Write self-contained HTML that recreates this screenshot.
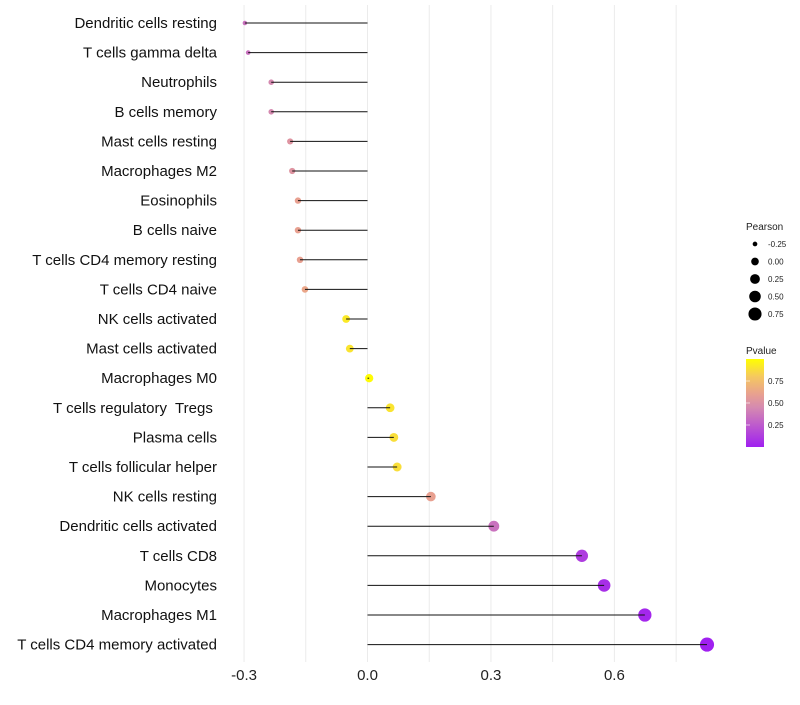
<!DOCTYPE html>
<html><head><meta charset="utf-8"><style>
body{margin:0;background:#fff;font-family:"Liberation Sans",sans-serif}
svg text{font-family:"Liberation Sans",sans-serif;white-space:pre}
</style></head><body>
<svg id="chart" width="800" height="700" xmlns="http://www.w3.org/2000/svg">
<g id="grid"></g>
<g id="dots"></g>
<g id="marks"></g>
<g id="ylab"></g>
<g id="xlab"></g>
<g id="legend">
<text x="746" y="230" font-size="10" fill="#222">Pearson</text>
<text x="746" y="354" font-size="10" fill="#222">Pvalue</text>
<defs><linearGradient id="pg" x1="0" y1="1" x2="0" y2="0">
<stop offset="0" stop-color="#A020F0"/><stop offset="0.45" stop-color="#D58AB0"/><stop offset="0.6" stop-color="#E8A090"/><stop offset="0.8" stop-color="#F5C860"/><stop offset="1" stop-color="#FFFF00"/></linearGradient></defs>
<rect x="746" y="359" width="18" height="88" fill="url(#pg)"/>
</g>
</svg>
<script>
const categories=["Dendritic cells resting","T cells gamma delta","Neutrophils","B cells memory","Mast cells resting","Macrophages M2","Eosinophils","B cells naive","T cells CD4 memory resting","T cells CD4 naive","NK cells activated","Mast cells activated","Macrophages M0","T cells regulatory  Tregs ","Plasma cells","T cells follicular helper","NK cells resting","Dendritic cells activated","T cells CD8","Monocytes","Macrophages M1","T cells CD4 memory activated"];
const pearson=[-0.298,-0.29,-0.234,-0.234,-0.188,-0.183,-0.169,-0.169,-0.164,-0.152,-0.052,-0.043,0.004,0.055,0.064,0.072,0.154,0.307,0.521,0.575,0.674,0.825];
const pvalue=[0.35,0.35,0.45,0.45,0.52,0.52,0.6,0.6,0.6,0.63,0.92,0.9,0.99,0.9,0.88,0.88,0.6,0.35,0.12,0.06,0.03,0.0];
const xTicks=[-0.3,0,0.3,0.6];
const xTickLabels=["-0.3","0.0","0.3","0.6"];
const sizeLegend=[-0.25,0,0.25,0.5,0.75];
const sizeLegendLabels=["-0.25","0.00","0.25","0.50","0.75"];
const colorTicks=[0.25,0.5,0.75];
const colorTickLabels=["0.25","0.50","0.75"];
const NS="http://www.w3.org/2000/svg";
const x=v=>367.5+v*411.5;
const y=i=>23+i*29.6;
const r=v=>Math.sqrt(5+40*(v+0.3));
const cy=p=>447-p*88;
const stops=[[0,[160,32,240]],[0.45,[213,138,176]],[0.6,[232,160,144]],[0.8,[245,200,96]],[1,[255,255,0]]];
function col(p){for(let k=0;k<stops.length-1;k++){const [a,ca]=stops[k],[b,cb]=stops[k+1];
 if(p<=b){const t=(p-a)/(b-a);return `rgb(${ca.map((u,j)=>Math.round(u+(cb[j]-u)*t)).join(',')})`;}}
 return 'rgb(255,255,0)';}
function mk(tag,attrs,parent,txt){const e=document.createElementNS(NS,tag);for(const k in attrs)e.setAttribute(k,attrs[k]);if(txt!=null)e.textContent=txt;parent.appendChild(e);return e;}
const grid=document.getElementById('grid'),dots=document.getElementById('dots'),marks=document.getElementById('marks'),ylab=document.getElementById('ylab'),xlab=document.getElementById('xlab'),leg=document.getElementById('legend');
for(let v=-0.3;v<=0.76;v+=0.15){const g=mk('line',{x1:x(v),x2:x(v),y1:5,y2:662,stroke:'#ebebeb','stroke-width':1},grid);

}
xTicks.forEach((v,i)=>{const t=mk('text',{x:x(v),y:680,'font-size':15,'text-anchor':'middle',fill:'#222'},xlab,xTickLabels[i]);

});
categories.forEach((c,i)=>{
 const t=mk('text',{x:217,y:y(i)+5,'font-size':15,'text-anchor':'end',fill:'#111'},ylab,c);
 
 
 const d=mk('circle',{cx:x(pearson[i]),cy:y(i),r:r(pearson[i]),fill:col(pvalue[i])},dots);
 
 
 const l=mk('line',{x1:x(0),x2:x(pearson[i]),y1:y(i),y2:y(i),stroke:'#111','stroke-width':1},marks);
 
 
});
sizeLegend.forEach((v,i)=>{const yy=244+i*17.5;
 const c=mk('circle',{cx:755,cy:yy,r:r(v)-0.3,fill:'#000'},leg);
 
 
 const t=mk('text',{x:768,y:yy+3,'font-size':8,fill:'#222'},leg,sizeLegendLabels[i]);
 
 });
colorTicks.forEach((v,i)=>{
 const t=mk('text',{x:768,y:cy(v)+3,'font-size':8,fill:'#222'},leg,colorTickLabels[i]);
 
 
 const l=mk('line',{x1:746,x2:750,y1:cy(v),y2:cy(v),stroke:'#fff','stroke-width':0.6},leg);
 
 });
</script>
</body></html>
